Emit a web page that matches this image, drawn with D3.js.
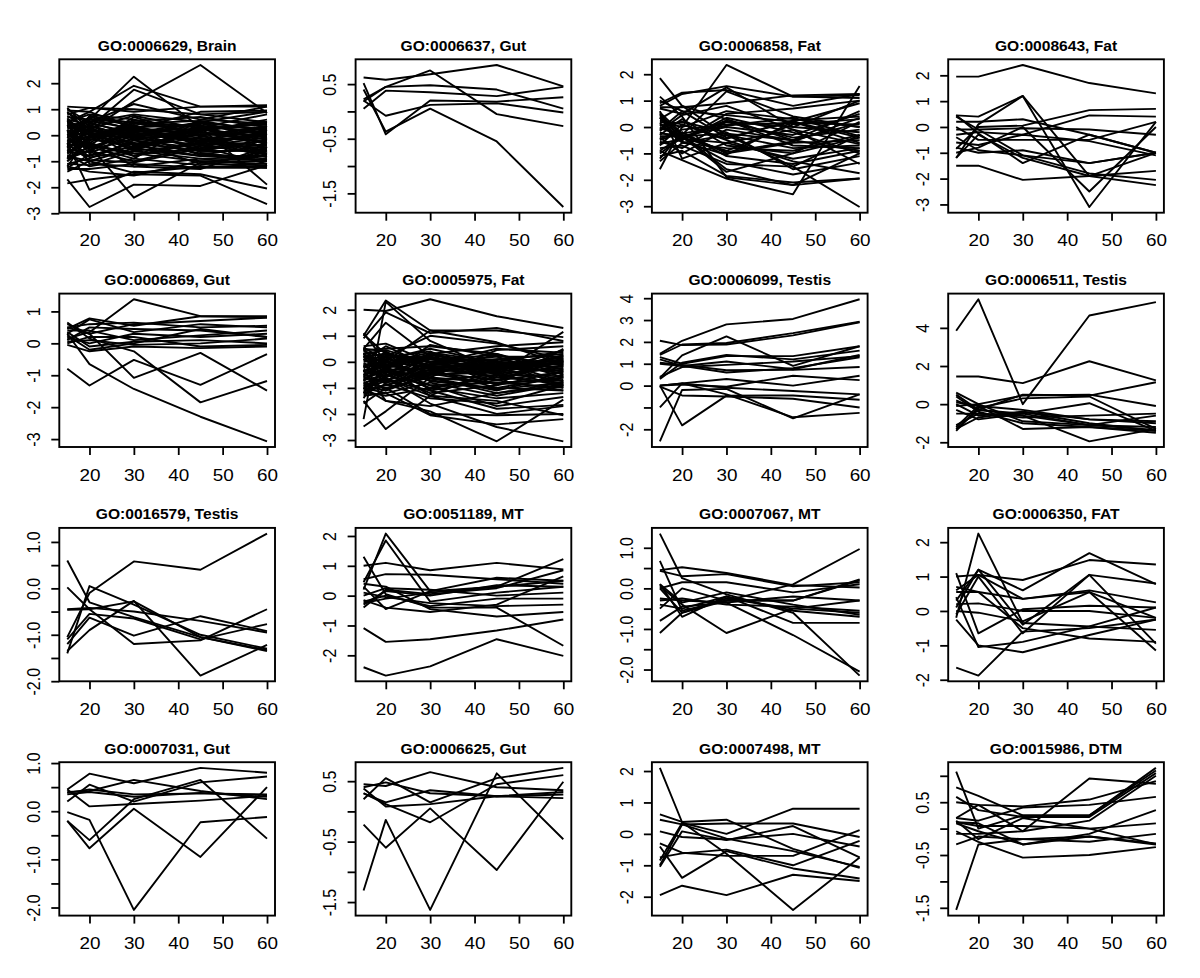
<!DOCTYPE html>
<html><head><meta charset="utf-8">
<script src="https://cdn.jsdelivr.net/npm/d3@7"></script>
<style>
body{margin:0;background:#fff}
svg{display:block}
text{font-family:"Liberation Sans",Arial,Helvetica,sans-serif;fill:#000}
</style>
</head><body>
<svg id="chart" width="1200" height="978"></svg>
<script>
// ---------- data ----------
const timePoints = [15, 20, 30, 45, 60];
const xTickValues = [20, 30, 40, 50, 60];

const panelTitles = [
  "GO:0006629, Brain", "GO:0006637, Gut", "GO:0006858, Fat", "GO:0008643, Fat",
  "GO:0006869, Gut", "GO:0005975, Fat", "GO:0006099, Testis", "GO:0006511, Testis",
  "GO:0016579, Testis", "GO:0051189, MT", "GO:0007067, MT", "GO:0006350, FAT",
  "GO:0007031, Gut", "GO:0006625, Gut", "GO:0007498, MT", "GO:0015986, DTM"
];

const ticksInt3 = [-3, -2, -1, 0, 1, 2];
const labelsInt3 = ["-3", "-2", "-1", "0", "1", "2"];
const ticksHalf15 = [-1.5, -1, -0.5, 0, 0.5, 1];
const labelsHalf15 = ["-1.5", "", "-0.5", "", "0.5", ""];
const ticksHalf2 = [-2, -1.5, -1, -0.5, 0, 0.5, 1];
const labelsHalf2 = ["-2.0", "", "-1.0", "", "0.0", "", "1.0"];
const ticksInt2 = [-2, -1, 0, 1, 2];
const labelsInt2 = ["-2", "-1", "0", "1", "2"];
const ticksP5 = [-3, -2, -1, 0, 1];
const labelsP5 = ["-3", "-2", "-1", "0", "1"];
const ticksP7 = [-2, -1, 0, 1, 2, 3, 4];
const labelsP7 = ["-2", "", "0", "1", "2", "3", "4"];
const ticksP8 = [-2, 0, 2, 4];
const labelsP8 = ["-2", "0", "2", "4"];

const brain6629 = [
  [-0.5, 0.2, 1.3, 2.70, 0.85], [0.0, 0.6, 2.25, 0.3, -1.9], [0.5, 0.9, 1.9, 1.1, 1.1],
  [0.3, 0.3, 1.75, 0.8, 0.9], [-1.7, -2.76, -1.9, -1.95, -1.15], [-0.4, -0.4, -2.4, -1.05, -1.25],
  [-0.3, -2.1, -1.4, -1.5, -2.05], [-1.85, -1.7, -1.5, -1.55, -2.65], [1.1, 1.05, 0.9, 1.1, 1.15],
  [1.0, 0.5, 1.2, 0.6, 1.1], [0.8, 1.05, 1.0, 0.8, 0.5], [-1.4, -1.0, -1.45, -1.2, -1.2],
  [-1.2, -1.4, -1.55, -1.0, -1.1], [-1.3, -1.3, -1.1, -1.25, -1.25],
  [0.6, -0.2, 0.5, 0.3, 0.4], [0.5, 0.3, -0.5, 0.2, 0.45], [0.4, -0.6, 0.2, -0.3, 0.1],
  [0.3, 0.5, 0.0, 0.5, -0.2], [0.2, -0.3, 0.6, 0.0, 0.3], [0.1, 0.2, -0.2, -0.5, 0.2],
  [0.0, -0.1, 0.3, 0.4, -0.5], [-0.1, 0.4, -0.4, 0.1, 0.0], [-0.2, -0.5, 0.1, -0.2, 0.35],
  [-0.3, 0.1, -0.6, 0.3, -0.3], [-0.4, -0.2, 0.4, -0.4, -0.1], [-0.5, 0.0, -0.1, 0.0, 0.15],
  [-0.6, -0.8, -0.3, -0.6, -0.6], [-0.7, -0.3, -0.8, -0.2, -0.4], [-0.8, -1.0, -0.5, -0.8, -0.8],
  [-0.9, -0.6, -1.0, -0.4, -0.7], [-1.0, -0.4, -0.7, -1.0, -1.0], [-1.1, -0.9, -0.2, -0.7, -0.9],
  [0.7, 0.6, 0.5, 0.35, 0.25], [0.9, 0.1, -0.8, -0.3, -0.5], [0.5, 0.8, 0.6, 0.0, -0.7],
  [-0.9, 0.5, 0.8, 0.5, 0.2], [-1.2, 0.0, 0.35, -0.6, -0.2], [0.2, -1.1, -1.2, -0.9, -0.95],
  [0.35, 0.0, -0.3, -1.1, -1.15], [-0.25, 0.65, 0.2, -0.1, -0.6], [0.15, -0.45, -0.9, 0.6, 0.45],
  [-0.55, -0.65, 0.55, 0.7, 0.3], [0.45, 0.15, 0.1, -0.15, -0.85], [-0.05, -0.85, -0.6, -0.35, 0.05],
  [0.25, 0.35, -0.05, 0.2, 0.5], [-0.35, 0.2, 0.0, -0.45, -1.1], [-0.65, -0.25, -1.2, -1.3, -0.45],
  [0.05, 0.05, 0.2, 0.1, -0.05], [-0.15, -0.15, -0.35, 0.35, 0.1], [0.55, -0.4, 0.7, -0.05, -0.25],
  [-0.75, -1.2, -0.9, -1.15, -0.6], [1.05, 0.2, -0.1, 0.45, 0.0],
  [0.85, 0.45, 0.1, 0.5, 0.9], [-0.45, 0.75, 0.45, 0.15, 0.5], [0.65, -0.15, -0.45, 0.05, -0.15],
  [-1.0, -0.1, 0.15, 0.25, -0.35], [0.35, 0.55, 0.25, -0.25, 0.05], [-0.2, -0.35, -0.7, -0.55, -0.35],
  [0.05, -0.55, -0.15, 0.15, 0.6], [-0.6, 0.3, -0.35, -0.8, -0.95], [0.45, 0.0, 0.45, 0.55, 0.15],
  [-1.25, -0.75, -0.45, -0.1, -0.75], [0.75, 0.25, 0.75, 0.25, -0.1], [-0.85, -0.45, 0.05, -0.25, 0.3],
  [0.1, 0.7, 0.35, -0.65, -0.55], [-0.35, -0.95, -1.05, -0.5, -0.2], [0.95, 0.9, 0.3, 0.0, 0.35],
  [-0.05, 0.15, -0.55, 0.3, 0.8], [0.2, -0.7, 0.0, -0.75, -0.4], [-0.7, -0.05, 0.25, 0.9, 0.95],
  [0.6, 0.4, -0.15, -0.35, -0.75], [-1.1, -1.15, -0.6, -0.9, -1.2]
];

const gut6637 = [
  [0.62, 0.58, 0.68, 0.85, 0.46], [0.22, 0.45, 0.75, -0.05, -0.27], [0.52, -0.42, 0.2, 0.18, 0.26],
  [0.4, -0.37, 0.05, -0.55, -1.75], [0.18, 0.45, 0.48, 0.4, 0.05], [0.05, 0.38, 0.35, 0.28, 0.45],
  [0.2, -0.08, 0.12, 0.15, -0.02]
];

const fat6858 = [
  [1.85, 0.8, -0.3, -1.5, -3.03], [-1.6, 0.0, 2.35, 1.15, 1.2], [-0.9, -1.25, -1.95, -2.55, 1.55],
  [1.15, 0.4, -1.9, -2.2, -1.95], [0.9, 1.3, 1.4, 0.8, 1.25], [0.8, 1.25, 1.55, 1.15, 1.1],
  [0.75, 0.75, 0.9, 1.2, 1.25], [0.7, 0.5, 1.5, 0.0, 1.0], [0.5, -0.5, 0.5, 0.7, 1.0],
  [0.45, -0.3, -1.6, -2.2, -1.0], [0.3, 0.8, 0.3, -0.5, 0.6], [0.2, 0.0, 0.6, 0.3, 0.0],
  [0.1, -0.4, -1.3, -1.8, -1.35], [0.0, -0.35, 0.0, -0.3, 0.5], [-0.1, 0.6, -0.4, 0.2, -0.4],
  [-0.2, -0.45, 0.2, 0.0, -0.2], [-0.3, 0.3, -0.7, -1.0, 0.2], [-0.4, -1.0, -0.1, -0.5, -0.9],
  [-0.5, -0.2, -1.0, -0.6, -0.5], [-0.6, -0.5, 0.35, -0.2, -1.0], [-0.7, 0.1, -0.5, -1.3, -1.75],
  [-0.8, -0.7, -1.4, -1.5, -0.3], [-1.0, -0.4, -0.9, 0.1, 0.3], [-1.1, -0.9, -1.85, -2.1, -1.95],
  [-1.3, -0.6, -0.3, -0.8, -0.7], [0.6, -1.2, -0.6, -1.2, -0.8], [0.35, -0.55, -1.05, 0.2, 0.9],
  [-0.25, -0.3, 1.35, 0.4, 0.0], [0.05, 0.2, -0.2, -1.6, -1.1], [-0.45, -0.1, 0.1, 0.15, 0.1],
  [0.15, -0.6, -0.8, -0.9, -0.3], [-0.15, 0.45, 0.8, -0.1, -1.4], [-0.9, -0.35, -1.7, -1.0, -0.4],
  [0.25, 0.1, -0.45, 0.25, 0.4], [-0.55, -0.8, 0.2, -0.4, -0.1], [1.0, 0.6, 0.45, 0.2, -0.6],
  [-0.35, -0.35, -0.25, -0.5, 0.15], [0.55, -0.25, 0.05, 0.35, -0.35], [-0.65, -0.45, -0.6, -0.1, -0.65],
  [-0.05, -0.3, -0.95, -0.55, 0.35], [0.4, -0.4, 0.25, -0.7, -0.8], [-1.2, -0.2, -1.1, -1.4, -0.9]
];

const fat8643 = [
  [1.95, 1.95, 2.4, 1.7, 1.3], [0.45, 0.4, 1.2, -1.9, -1.0], [-1.2, 0.1, 1.2, -3.1, 0.2],
  [-1.0, -0.8, 0.0, -2.5, 0.0], [0.45, -0.25, -1.4, -0.3, -1.0], [-1.2, -0.3, -1.2, -1.9, -2.25],
  [-1.5, -1.5, -2.05, -1.9, -1.7], [-0.1, -0.1, -0.05, -0.1, -0.3], [-0.85, 0.0, 0.05, 0.65, 0.7],
  [0.2, 0.2, 0.3, -0.3, -1.0], [-0.4, -0.9, -1.1, -1.8, -2.05], [-0.8, -1.0, -0.9, -1.4, -1.0],
  [0.0, -0.5, -0.5, -0.5, 0.2], [-0.3, -0.2, -0.3, 0.45, 0.4], [-0.6, -0.7, -0.3, -0.55, -1.1],
  [0.4, -0.1, -1.1, -1.4, -1.0]
];

const gut6869 = [
  [0.3, -0.65, -1.43, -2.3, -3.07], [-0.8, -1.32, -0.52, -1.3, -0.34], [0.5, 0.3, -1.08, -0.3, -1.48],
  [0.65, 0.15, -0.25, -1.85, -1.18], [0.15, 0.35, 1.38, 0.85, 0.82], [0.45, 0.78, 0.55, 0.85, 0.85],
  [0.3, 0.75, 0.35, 0.6, 0.5], [0.6, 0.3, 0.6, 0.7, 0.8], [0.2, 0.0, 0.3, 0.2, 0.3],
  [0.1, 0.5, 0.45, 0.4, 0.2], [0.35, -0.1, 0.05, 0.1, 0.0], [0.0, 0.2, 0.2, -0.1, -0.05],
  [-0.05, -0.25, -0.1, -0.15, -0.1], [0.4, 0.4, 0.1, 0.25, 0.4], [0.25, -0.2, 0.0, 0.45, 0.2],
  [0.05, 0.1, -0.05, 0.0, 0.15], [0.5, 0.6, 0.65, 0.5, 0.55]
];

const fat5975 = [
  [2.0, 1.95, 2.4, 1.75, 1.3], [1.0, 2.35, 1.2, 0.75, -0.1], [-2.2, 2.3, 0.8, -0.3, 0.2],
  [0.9, 1.9, 1.1, 1.3, 0.8], [0.5, 1.5, 0.2, -0.5, 1.15], [1.1, 0.0, 1.2, 1.2, 0.95],
  [-2.48, -1.9, -0.6, -0.8, -1.0], [-1.5, -2.58, -1.3, -2.0, -1.7], [-1.3, -1.2, -2.05, -2.4, -2.2],
  [-1.0, -1.5, -1.9, -3.05, -1.45], [-0.8, -0.6, -1.6, -2.5, -3.05], [-1.6, -1.0, -2.0, -2.05, -2.0],
  [0.5, 0.4, -1.1, -1.8, -1.65], [-1.2, -0.2, -1.3, -1.5, -2.05], [0.3, -0.3, -0.6, -1.2, -0.9],
  [0.4, 0.2, 0.0, 0.1, 0.3], [0.3, -0.1, 0.2, -0.2, 0.1], [0.2, 0.3, -0.3, 0.0, -0.1],
  [0.1, -0.4, 0.1, -0.3, 0.0], [0.0, 0.1, -0.1, 0.2, 0.2], [-0.1, -0.2, 0.3, -0.1, -0.2],
  [-0.2, 0.4, -0.5, -0.4, 0.05], [-0.3, -0.6, 0.0, 0.3, -0.3], [-0.4, 0.0, -0.2, -0.6, -0.8],
  [-0.5, -0.3, -0.7, -0.5, -0.9], [-0.6, -0.8, -0.4, -0.2, -1.0], [-0.7, -0.5, -0.9, -0.8, -0.7],
  [-0.8, -1.0, -0.6, -1.1, -0.5], [-0.9, -0.7, -1.1, -0.7, -1.1], [-1.0, -1.2, -0.8, -1.3, -0.85],
  [-1.1, -0.9, -0.3, -1.0, -0.6], [0.5, -0.5, -0.1, 0.5, 0.35], [0.45, 0.5, 0.6, 0.3, -0.5],
  [0.25, -0.9, -0.5, -0.35, 0.45], [0.15, 0.15, 0.4, -0.7, -0.4], [-0.05, -0.45, -1.2, -0.9, 0.5],
  [-0.25, 0.25, 0.1, 0.05, -0.95], [-0.35, -0.15, -0.35, -0.15, 0.15], [-0.45, -1.1, -0.15, -0.45, -0.25],
  [-0.55, 0.05, -0.6, 0.45, 0.6], [-0.65, -0.35, -1.0, -1.4, -1.2], [-0.75, 0.1, 0.5, -0.05, -0.1],
  [-0.85, -0.4, -0.25, -0.55, 0.0], [-0.95, -0.65, -1.3, -0.25, -0.75], [-1.05, -0.25, 0.2, -0.9, -0.35],
  [-1.15, -1.3, -1.0, -0.6, -0.15], [0.55, 0.05, -0.75, -1.0, -1.1], [0.35, -0.75, 0.3, 0.6, 0.75],
  [0.05, 0.6, -0.2, -0.3, 0.25], [-0.15, -0.55, 0.65, 0.2, -0.6], [-1.4, -0.1, -0.45, 0.0, 0.4],
  [-1.25, -0.85, -1.4, -1.6, -0.9], [0.2, -0.2, -0.9, -1.7, -1.35], [-0.6, 0.2, 1.0, 0.7, 0.1],
  [1.05, 0.3, -0.2, -0.1, 0.05], [-0.3, -1.5, -1.7, -1.2, -0.8], [0.6, 0.7, 0.0, -0.15, -0.05],
  [0.3, 0.45, -0.05, -0.35, 0.25], [-0.5, -0.05, 0.25, -0.1, -0.45], [-1.2, -0.5, -0.4, -0.7, 0.05],
  [0.1, -0.3, -0.25, 0.1, -0.3], [-0.2, 0.05, -0.7, -1.05, -0.8], [-0.9, -1.1, -0.5, -0.3, 0.45],
  [0.45, -0.15, 0.15, -0.4, 0.0], [-0.4, 0.35, -0.15, 0.25, -0.15], [-0.7, -0.2, -1.05, -0.5, -0.55],
  [0.2, 0.0, 0.35, 0.0, -0.75], [-1.0, -0.75, -0.1, -0.2, -0.35], [-0.1, -0.8, -0.45, -0.85, -0.6]
];

const testis6099 = [
  [1.45, 2.05, 2.8, 3.05, 3.95], [2.05, 1.85, 1.88, 2.3, 2.9], [1.4, 1.88, 1.95, 2.4, 2.92],
  [0.35, 1.38, 2.25, 0.9, 1.8], [1.3, 1.0, 1.35, 1.35, 1.8], [1.2, 0.9, 1.1, 0.75, 1.4],
  [1.05, 0.95, 0.7, 0.72, 0.85], [0.3, 1.05, 1.4, 1.2, 1.6], [0.4, 0.85, 0.95, 1.1, 1.35],
  [1.0, 0.9, 0.6, 0.8, 1.3], [0.0, 0.1, 0.3, 0.0, 0.45], [0.0, 0.05, -0.05, 0.45, 0.25],
  [-1.0, 0.1, -0.1, -0.25, -0.4], [-2.55, -0.2, -0.15, -1.5, -0.4], [0.0, -1.82, -0.46, -0.45, -0.65],
  [-0.05, -0.45, -0.5, -0.6, -1.0], [0.0, 0.1, -0.4, -1.45, -1.25]
];

const testis6511 = [
  [3.85, 5.5, 0.0, 4.65, 5.35], [1.45, 1.45, 1.1, 2.25, 1.25], [-1.3, -0.3, 0.5, 0.45, 1.15],
  [0.6, 0.0, 0.45, 0.5, -0.1], [0.5, -0.3, -0.5, 0.05, -1.4], [0.1, -0.1, -1.3, -1.2, -1.5],
  [-1.4, -0.2, 0.3, 0.4, -1.3], [-1.1, -0.5, -0.6, -1.95, -1.3], [-0.5, -0.5, -0.7, -0.6, -0.5],
  [0.0, -0.6, -0.4, -1.0, -1.4], [-0.1, 0.0, -0.9, -1.1, -1.2], [-1.2, -0.1, -0.3, -0.8, -0.9],
  [-0.3, -0.8, -0.5, -1.1, -0.6], [0.4, -0.4, -1.0, -1.2, -1.4], [-1.3, -0.7, -0.4, -0.8, -1.0],
  [0.2, -0.3, -0.6, -1.1, -1.35]
];

const testis16579 = [
  [-1.05, -0.1, 0.58, 0.4, 1.18], [0.6, -0.3, -0.62, -1.05, -1.33], [0.02, -0.45, -1.2, -1.12, -0.45],
  [-1.4, 0.05, -0.35, -1.0, -1.3], [-1.35, -0.9, -0.27, -1.88, -1.22], [-0.45, -0.42, -0.5, -0.7, -0.95],
  [-0.46, -0.45, -0.28, -1.05, -1.35], [-1.2, -0.63, -1.02, -0.6, -0.92], [-1.1, -0.55, -0.65, -1.1, -0.77]
];

const mt51189 = [
  [-2.4, -2.68, -2.37, -1.46, -2.02], [-1.09, -1.55, -1.46, -1.17, -0.8], [0.2, 2.08, 0.15, 0.3, 0.5],
  [0.45, 1.85, -0.2, 0.1, 0.3], [1.3, 0.05, -0.4, -0.4, -1.68], [1.0, 1.1, 0.85, 1.1, 0.88],
  [0.55, 0.72, 0.7, 0.55, 0.4], [-0.25, -0.1, 0.1, 0.3, 1.22], [-0.4, 0.2, 0.05, 0.25, 0.85],
  [0.3, -0.45, 0.15, 0.6, 0.5], [0.0, 0.25, 0.2, 0.0, 0.1], [-0.2, 0.0, -0.35, -0.1, -0.1],
  [0.4, 0.3, -0.45, -0.7, -0.55], [-0.15, -0.4, -0.55, -0.3, 0.65], [0.1, -0.05, -0.25, -0.35, -0.3],
  [-0.3, 0.15, 0.0, 0.35, 0.3]
];

const mt7067 = [
  [1.35, 0.25, -0.15, -0.6, -2.15], [0.68, -0.55, -0.3, -0.3, 0.2], [0.45, 0.52, 0.38, 0.08, 0.02],
  [0.43, 0.3, 0.35, 0.05, 0.15], [-1.1, -0.6, -0.3, 0.1, 0.97], [0.05, -0.4, -1.1, -0.5, -0.3],
  [-0.8, -0.45, -0.35, -1.15, -2.05], [0.1, -0.7, -0.2, -0.85, -0.85], [-0.5, 0.0, -0.3, -0.3, 0.22],
  [0.0, 0.15, 0.15, -0.1, 0.1], [-0.3, -0.25, -0.4, -0.45, -0.55], [0.1, -0.35, -0.1, -0.4, -0.65],
  [-0.4, -0.5, -0.2, -0.55, -0.7], [-0.25, -0.3, -0.35, -0.2, -0.3], [0.0, -0.6, -0.25, -0.5, -0.6]
];

const fat6350 = [
  [-1.65, -1.88, -0.6, -0.5, -0.25], [-0.2, 2.25, -0.35, -0.45, -0.55], [0.3, 1.2, 0.6, 1.68, 0.78],
  [1.0, 1.05, 0.9, 1.48, 1.35], [0.1, 1.2, -0.4, 1.05, 0.8], [-0.1, 1.0, -0.65, 1.05, -0.95],
  [1.1, -0.65, 0.05, 0.15, 0.1], [0.55, 0.55, 0.35, 0.55, -0.2], [0.6, 1.05, 0.35, 0.6, 0.25],
  [0.2, 0.22, 0.0, 0.0, -0.2], [0.4, -1.05, -0.9, -0.45, 0.1], [-0.25, -1.0, -1.2, -0.7, -0.25],
  [0.7, 0.55, -0.5, -0.8, -0.9], [0.0, -0.05, -0.3, 0.55, -1.15]
];

const gut7031 = [
  [-0.02, -0.18, -2.05, -0.23, -0.12], [-0.2, -0.77, 0.05, -0.95, 0.5], [-0.2, -0.6, 0.25, 0.65, -0.57],
  [0.45, 0.78, 0.58, 0.9, 0.8], [0.45, 0.1, 0.15, 0.22, 0.32], [0.4, 0.42, 0.65, 0.42, 0.25],
  [0.2, 0.55, 0.2, 0.6, 0.72], [0.38, 0.45, 0.35, 0.37, 0.35], [0.35, 0.4, 0.3, 0.38, 0.3]
];

const gut6625 = [
  [-1.31, -0.14, -1.63, 0.63, -0.46], [-0.22, -0.6, 0.05, -0.97, 0.49], [0.3, 0.12, -0.18, 0.45, 0.6],
  [0.2, 0.55, 0.15, 0.55, 0.72], [0.45, 0.42, 0.65, 0.4, 0.35], [0.38, 0.08, 0.12, 0.25, 0.22],
  [0.4, 0.48, 0.3, 0.25, 0.32], [0.3, 0.15, 0.35, 0.25, 0.28]
];

const mt7498 = [
  [2.1, 0.37, -0.63, -2.42, -0.75], [-1.95, -1.65, -1.95, -1.3, -1.5], [-0.4, -1.4, -0.55, -1.1, -1.42],
  [-0.85, 0.35, 0.0, 0.8, 0.8], [0.62, 0.38, 0.45, -0.48, -1.08], [0.45, 0.3, 0.33, 0.33, -0.1],
  [0.08, -0.1, -0.18, 0.0, -0.4], [-1.05, 0.08, -0.2, 0.25, -0.75], [-0.75, -0.62, -0.5, -1.0, -0.22],
  [-0.3, -0.6, -0.7, -0.7, 0.12], [-1.0, 0.3, -0.15, -0.55, -1.05]
];

const dtm15986 = [
  [-1.54, -0.3, -0.2, -0.15, -0.3], [1.08, 0.0, 0.25, 0.25, 1.15], [0.78, 0.62, 0.25, 0.25, 1.1],
  [0.2, 0.45, -0.05, 0.95, 0.85], [0.6, 0.35, 0.22, 0.22, 1.05], [0.5, 0.45, 0.42, 0.55, 0.9],
  [0.2, 0.15, 0.4, 0.45, 0.6], [0.1, -0.05, -0.3, -0.1, 0.35], [0.12, 0.05, 0.05, 0.0, 0.1],
  [0.15, -0.2, 0.2, 0.0, -0.3], [-0.05, -0.25, -0.55, -0.5, -0.35], [-0.3, -0.15, -0.2, -0.25, -0.1],
  [0.12, 0.1, -0.3, -0.15, -0.28], [-0.1, -0.1, -0.05, 0.15, 1.0]
];

const panelSeries = [brain6629, gut6637, fat6858, fat8643, gut6869, fat5975, testis6099, testis6511,
  testis16579, mt51189, mt7067, fat6350, gut7031, gut6625, mt7498, dtm15986];
const panelYTicks = [ticksInt3, ticksHalf15, ticksInt3, ticksInt3, ticksP5, ticksInt3, ticksP7, ticksP8,
  ticksHalf2, ticksInt2, ticksHalf2, ticksInt2, ticksHalf2, ticksHalf15, ticksInt2, ticksHalf15];
const panelYLabels = [labelsInt3, labelsHalf15, labelsInt3, labelsInt3, labelsP5, labelsInt3, labelsP7, labelsP8,
  labelsHalf2, labelsInt2, labelsHalf2, labelsInt2, labelsHalf2, labelsHalf15, labelsInt2, labelsHalf15];

// ---------- layout ----------
const left0 = 59.3, colStep = 296.3, plotW = 215.7;
const top0 = 59.3, rowStep = 234.3, plotH = 153.4;
const stretch = 1.18;
const axisFont = 16;
const titleFont = 15;
const titleStretch = 1.04;

const svg = d3.select("#chart");
svg.append("rect").attr("width", 1200).attr("height", 978).attr("fill", "#fff");

panelTitles.forEach((title, i) => {
  const c = i % 4, r = Math.floor(i / 4);
  const x0 = left0 + c * colStep, y0 = top0 + r * rowStep;
  const series = panelSeries[i];
  const [mn, mx] = d3.extent(series.flat());
  const pad = (mx - mn) * 0.04;
  const tx = timePoints[timePoints.length - 1] - timePoints[0];
  const x = d3.scaleLinear().domain([timePoints[0] - tx * 0.04, timePoints[timePoints.length - 1] + tx * 0.04])
    .range([x0, x0 + plotW]);
  const y = d3.scaleLinear().domain([mn - pad, mx + pad]).range([y0 + plotH, y0]);
  const g = svg.append("g");

  const line = d3.line().x((d, k) => x(timePoints[k])).y(d => y(d));
  g.append("g").selectAll("path").data(series).join("path")
    .attr("d", line).attr("fill", "none").attr("stroke", "#000")
    .attr("stroke-width", 1.9).attr("stroke-linejoin", "round");

  // box
  g.append("rect").attr("x", x0).attr("y", y0).attr("width", plotW).attr("height", plotH)
    .attr("fill", "none").attr("stroke", "#000").attr("stroke-width", 1.9);

  // x axis
  const xa = g.append("g").attr("transform", `translate(0,${y0 + plotH})`)
    .call(d3.axisBottom(x).tickValues(xTickValues).tickSize(8).tickPadding(0).tickFormat(d3.format("d")));
  xa.select(".domain").remove();
  xa.selectAll(".tick line").attr("stroke", "#000").attr("stroke-width", 1.8);
  xa.selectAll(".tick text").attr("y", 33.8).attr("dy", null)
    .attr("font-size", axisFont).attr("transform", `scale(${stretch},1)`)
    .attr("x", 0);

  // y axis
  const [d0, d1] = y.domain();
  const tol = (d1 - d0) * 0.01;
  const ticks = panelYTicks[i];
  const labs = panelYLabels[i];
  const keep = ticks.map((t, k) => [t, labs[k]]).filter(([t]) => t >= d0 - tol && t <= d1 + tol);
  const labMap = new Map(keep);
  const ya = g.append("g").attr("transform", `translate(${x0},0)`)
    .call(d3.axisLeft(y).tickValues(keep.map(d => d[0])).tickSize(8).tickFormat(t => labMap.get(t)));
  ya.select(".domain").remove();
  ya.selectAll(".tick line").attr("stroke", "#000").attr("stroke-width", 1.8);
  ya.selectAll(".tick text").attr("x", null).attr("dy", null)
    .attr("text-anchor", "middle").attr("font-size", axisFont)
    .attr("transform", `translate(-19.3,0) scale(${stretch},1) rotate(-90)`);

  // title
  g.append("text").attr("transform", `translate(${x0 + plotW / 2},${50.7 + r * rowStep}) scale(${titleStretch},1)`)
    .attr("text-anchor", "middle").attr("font-weight", "bold").attr("font-size", titleFont)
    .text(title);
});
</script>
</body></html>
